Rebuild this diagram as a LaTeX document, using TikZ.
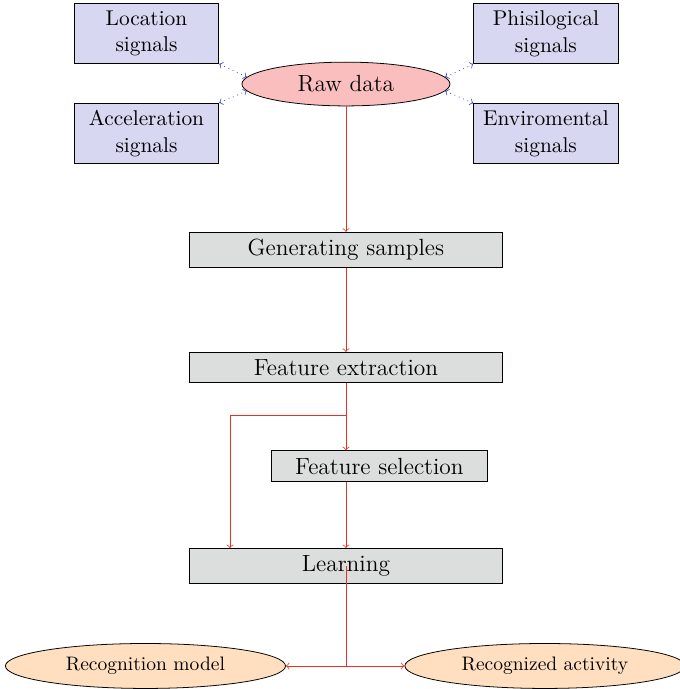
\documentclass[tikz,border=0pt,11pt]{standalone}
\usepackage{tikz}
\usetikzlibrary{shapes.geometric}
\definecolor{sigfill}{RGB}{215,215,241}
\definecolor{rawfill}{RGB}{250,190,190}
\definecolor{stagefill}{RGB}{220,221,221}
\definecolor{outfill}{RGB}{255,223,192}
\definecolor{linkblue}{RGB}{60,80,190}
\definecolor{flowred}{RGB}{232,50,40}
\begin{document}
\begin{tikzpicture}[x=1cm,y=1cm,
  signal/.style={draw,fill=sigfill,text width=2.35cm,align=center},
  stage/.style={draw,fill=stagefill,minimum width=5.65cm,font=\large},
  result/.style={draw,ellipse,fill=outfill,minimum width=5.05cm,font=\small},
  flow/.style={->,flowred},
  link/.style={<->,dotted,linkblue}]
\useasboundingbox (0,0) rectangle (12.24,12.42);
\node[signal] (loc) at (2.641,11.815) {Location\\signals};
\node[signal] (acc) at (2.641,10.012) {Acceleration\\signals};
\node[signal] (phy) at (9.841,11.815) {Phisilogical\\signals};
\node[signal] (env) at (9.841,10.012) {Enviromental\\signals};
\node[draw,ellipse,fill=rawfill,minimum width=3.75cm,font=\large] (raw) at (6.236,10.905) {Raw data};
\node[stage] (gen) at (6.236,7.913) {Generating samples};
\node[stage] (fex) at (6.236,5.795) {Feature extraction};
\node[stage,minimum width=3.9cm] (fsel) at (6.840,4.019) {Feature selection};
\node[stage] (learn) at (6.236,2.217) {Learning};
\node[result] (recm) at (2.622,0.415) {Recognition model};
\node[result] (reca) at (9.823,0.415) {Recognized activity};
\coordinate (split) at (6.236,4.939);
\coordinate (bypass) at (4.146,4.939);
\coordinate (hub) at (learn.center |- recm.east);
\draw[link] (loc.south east) -- (raw.176);
\draw[link] (acc.north east) -- (raw.184);
\draw[link] (phy.south west) -- (raw.4);
\draw[link] (env.north west) -- (raw.356);
\draw[flow] (raw) -- (gen);
\draw[flow] (gen) -- (fex);
\draw[flow] (fex.south) -- (fex.south |- fsel.north);
\draw[flow] (split) -- (bypass) -- (bypass |- learn.north);
\draw[flow] (learn.north |- fsel.south) -- (learn.north);
\draw[flowred] (learn.center) -- (hub);
\draw[flow] (hub) -- (recm.east);
\draw[flow] (hub) -- (reca.west);
\end{tikzpicture}
\end{document}
